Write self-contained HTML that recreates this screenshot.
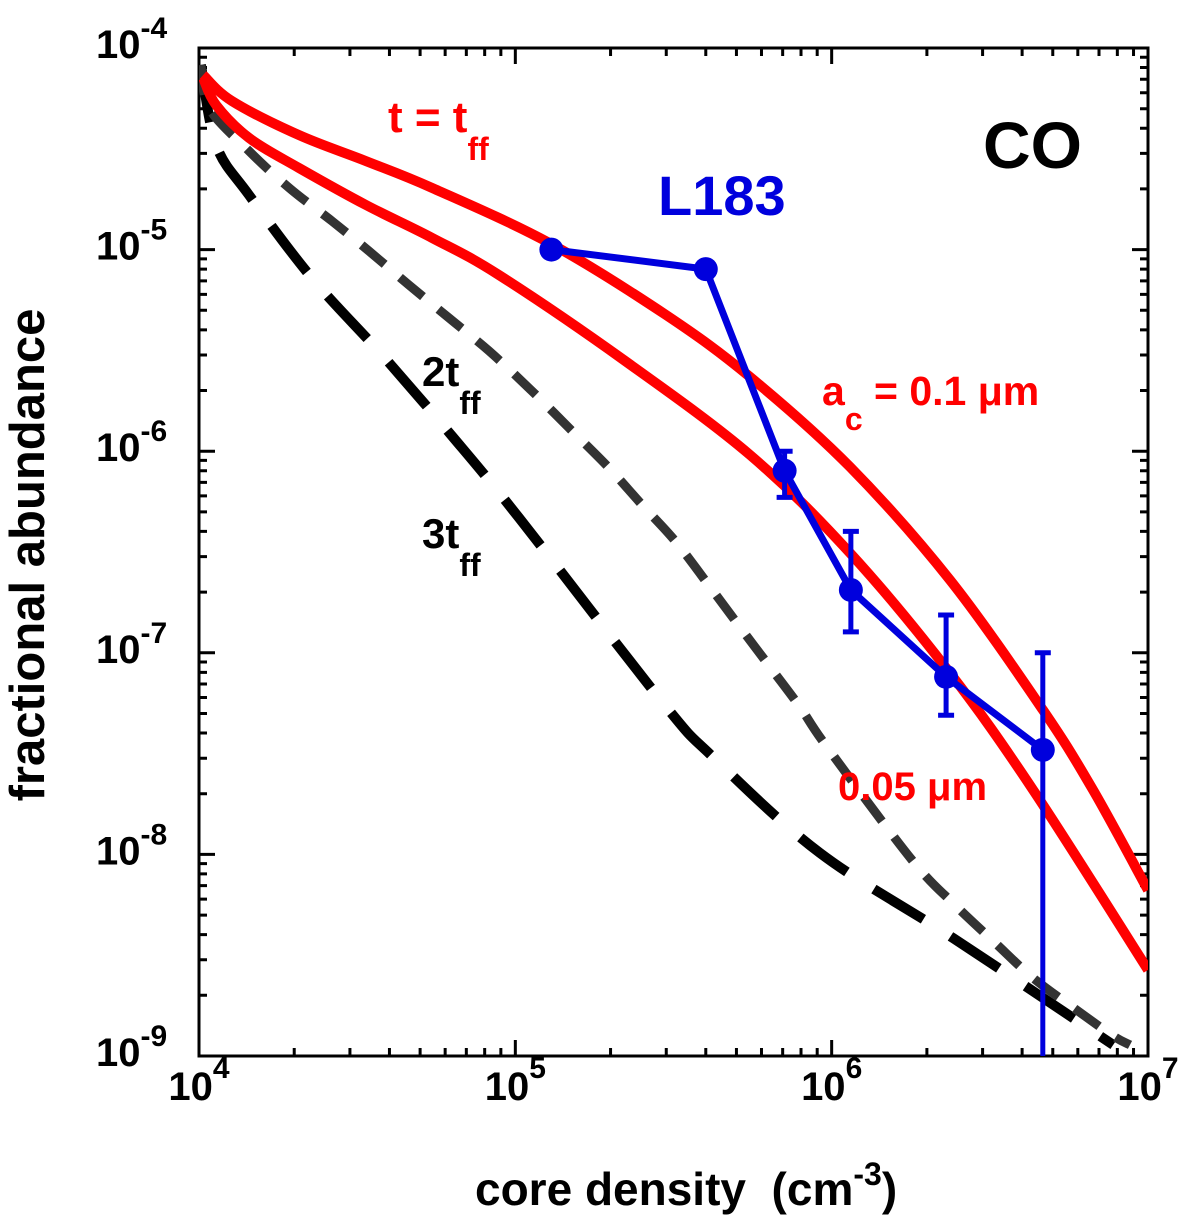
<!DOCTYPE html>
<html><head><meta charset="utf-8"><style>
html,body{margin:0;padding:0;background:#fff;}
svg{display:block;font-family:"Liberation Sans",Arial,sans-serif;font-weight:bold;}
</style></head><body>
<svg id="chart" width="1200" height="1222" viewBox="0 0 1200 1222">
<defs><clipPath id="plotclip"><rect x="199" y="48" width="949" height="1008"/></clipPath></defs>
<g id="grid"></g>
<g id="series" clip-path="url(#plotclip)"></g>
<g id="labels"></g>
</svg>
<script>
// data (log10 density, log10 abundance)
const red01LogX = [4.013,4.104,4.316,4.528,4.737,5.107,5.476,5.742,6.058,6.374,6.668,6.826,7.0];
const red01LogY = [-4.134,-4.263,-4.432,-4.561,-4.694,-4.967,-5.324,-5.632,-6.078,-6.639,-7.284,-7.68,-8.177];
const red005LogX = [4.013,4.054,4.158,4.316,4.528,4.737,4.948,5.345,5.742,6.058,6.374,6.637,7.0];
const red005LogY = [-4.149,-4.283,-4.446,-4.595,-4.779,-4.942,-5.126,-5.55,-6.019,-6.505,-7.100,-7.681,-8.573];
const t2LogX = [4.006,4.032,4.158,4.285,4.420,4.537,4.664,4.790,4.917,5.043,5.170,5.296,5.401,5.505,5.616,5.710,5.805,5.900,5.985,6.254,6.390,6.517,6.637,6.770,6.890,6.943];
const t2LogY = [-4.084,-4.298,-4.511,-4.694,-4.858,-5.007,-5.176,-5.339,-5.503,-5.687,-5.885,-6.083,-6.267,-6.445,-6.674,-6.872,-7.070,-7.269,-7.467,-8.028,-8.251,-8.439,-8.613,-8.767,-8.901,-8.945];
const t3LogX = [4.006,4.054,4.158,4.357,4.579,4.800,5.012,5.467,5.625,5.963,6.384,6.890];
const t3LogY = [-4.084,-4.481,-4.729,-5.141,-5.523,-5.925,-6.331,-7.249,-7.517,-7.993,-8.415,-8.945];
const obsDensity = [1.3e5,4.0e5,7.1e5,1.15e6,2.3e6,4.65e6];
const obsAbund = [1.0e-5,8.0e-6,8.0e-7,2.05e-7,7.6e-8,3.3e-8];
const obsHi = [1.07e-5,8.6e-6,1.0e-6,4.0e-7,1.54e-7,1.0e-7];
const obsLo = [9.3e-6,7.4e-6,5.9e-7,1.27e-7,4.9e-8,1e-10];
const xTickExp = [4,5,6,7];
const yTickExp = [-4,-5,-6,-7,-8,-9];

const NS="http://www.w3.org/2000/svg";
const X0=199,X1=1148,Y0=48,Y1=1056;
const lx=l=>X0+(l-4)/3*(X1-X0);
const ly=l=>Y0+(-4-l)/5*(Y1-Y0);
const sx=v=>lx(Math.log10(v)), sy=v=>ly(Math.log10(v));
function mk(tag,attrs,parent){const e=document.createElementNS(NS,tag);for(const k in attrs)e.setAttribute(k,attrs[k]);parent.appendChild(e);return e;}
const grid=document.getElementById('grid'),series=document.getElementById('series'),labels=document.getElementById('labels');

const frame=mk('rect',{x:X0,y:Y0,width:X1-X0,height:Y1-Y0,fill:'none',stroke:'#000','stroke-width':3},grid);


let tp='';
for(let d=4;d<=7;d++){
  const x=lx(d);tp+=`M${x},${Y1}v-16M${x},${Y0}v16`;
  if(d<7)for(let m=2;m<=9;m++){const xx=lx(d+Math.log10(m));tp+=`M${xx},${Y1}v-8M${xx},${Y0}v8`;}
}
for(let d=-9;d<=-4;d++){
  const y=ly(d);tp+=`M${X0},${y}h16M${X1},${y}h-16`;
  if(d<-4)for(let m=2;m<=9;m++){const yy=ly(d+Math.log10(m));tp+=`M${X0},${yy}h8M${X1},${yy}h-8`;}
}
const ticks=mk('path',{d:tp,stroke:'#000','stroke-width':3,fill:'none'},grid);



function smoothPath(xs,ys){
  const P=xs.map((v,i)=>[lx(v),ly(ys[i])]);
  let d='M'+P[0][0].toFixed(1)+','+P[0][1].toFixed(1);
  for(let i=0;i<P.length-1;i++){
    const p0=P[Math.max(0,i-1)],p1=P[i],p2=P[i+1],p3=P[Math.min(P.length-1,i+2)];
    const c1=[p1[0]+(p2[0]-p0[0])/6,p1[1]+(p2[1]-p0[1])/6];
    const c2=[p2[0]-(p3[0]-p1[0])/6,p2[1]-(p3[1]-p1[1])/6];
    d+=`C${c1[0].toFixed(1)},${c1[1].toFixed(1)} ${c2[0].toFixed(1)},${c2[1].toFixed(1)} ${p2[0].toFixed(1)},${p2[1].toFixed(1)}`;
  }
  return d;
}
function line(xs,ys,attrs,name){
  const p=mk('path',Object.assign({d:smoothPath(xs,ys),fill:'none'},attrs),series);
  
  
}
line(t3LogX,t3LogY,{stroke:'#000','stroke-width':10,'stroke-dasharray':'58 32','stroke-linejoin':'round'},'line-3tff');
line(t2LogX,t2LogY,{stroke:'#333','stroke-width':9,'stroke-dasharray':'30 20','stroke-linejoin':'round'},'line-2tff');
line(red01LogX,red01LogY,{stroke:'#ff0000','stroke-width':10,'stroke-linejoin':'round'},'line-ac-0.1um');
line(red005LogX,red005LogY,{stroke:'#ff0000','stroke-width':10,'stroke-linejoin':'round'},'line-ac-0.05um');
const od=obsDensity.map((v,i)=>(i?'L':'M')+sx(v).toFixed(1)+','+sy(obsAbund[i]).toFixed(1)).join('');
const ol=mk('path',{d:od,fill:'none',stroke:'#0000dd','stroke-width':7,'stroke-linejoin':'round'},series);


obsDensity.forEach((v,i)=>{
  const x=sx(v),yh=sy(obsHi[i]),yl=sy(obsLo[i]);
  const e=mk('path',{d:`M${x},${yh}V${yl}M${x-8},${yh}h16M${x-8},${yl}h16`,stroke:'#0000dd','stroke-width':5,fill:'none'},series);
  
  
  const c=mk('circle',{cx:x,cy:sy(obsAbund[i]),r:12,fill:'#0000dd'},series);
  
  
});

function txt(x,y,html,attrs,name){
  const t=mk('text',Object.assign({x:x,y:y},attrs),labels);t.innerHTML=html;
  
  return t;
}
xTickExp.forEach(e=>{
  txt(lx(e),1100,`10<tspan dy="-22" font-size="30">${e}</tspan>`,{'font-size':40,'text-anchor':'middle'},'x-tick-label');
});
yTickExp.forEach(e=>{
  txt(96,ly(e)+10,`10<tspan dy="-20" font-size="30">${e}</tspan>`,{'font-size':40},'y-tick-label');
});
txt(475,1205,`core density&#160; (cm<tspan dy="-20" font-size="32">-3</tspan><tspan dy="20">)</tspan>`,{'font-size':46},'x-axis-title');
txt(44,555,'fractional abundance',{'font-size':49,'text-anchor':'middle',transform:'rotate(-90 44 555)'},'y-axis-title');
txt(1082,168,'CO',{'font-size':66,'text-anchor':'end'},'species-label');
txt(658,215,'L183',{'font-size':56,fill:'#0000dd'},'l183-label');
txt(388,132,'t = t<tspan dy="28" font-size="32">ff</tspan>',{'font-size':44,fill:'#ff0000'},'label-t-tff');
txt(822,405,'a<tspan dy="25" font-size="32">c</tspan><tspan dy="-25"> = 0.1 μm</tspan>',{'font-size':41,fill:'#ff0000'},'label-ac-0.1um');
txt(838,800,'0.05 μm',{'font-size':40,fill:'#ff0000'},'label-0.05um');
txt(422,386,'2t<tspan dy="28" font-size="32">ff</tspan>',{'font-size':42,fill:'#000'},'label-2tff');
txt(422,548,'3t<tspan dy="28" font-size="32">ff</tspan>',{'font-size':42,fill:'#000'},'label-3tff');
</script>
</body></html>
